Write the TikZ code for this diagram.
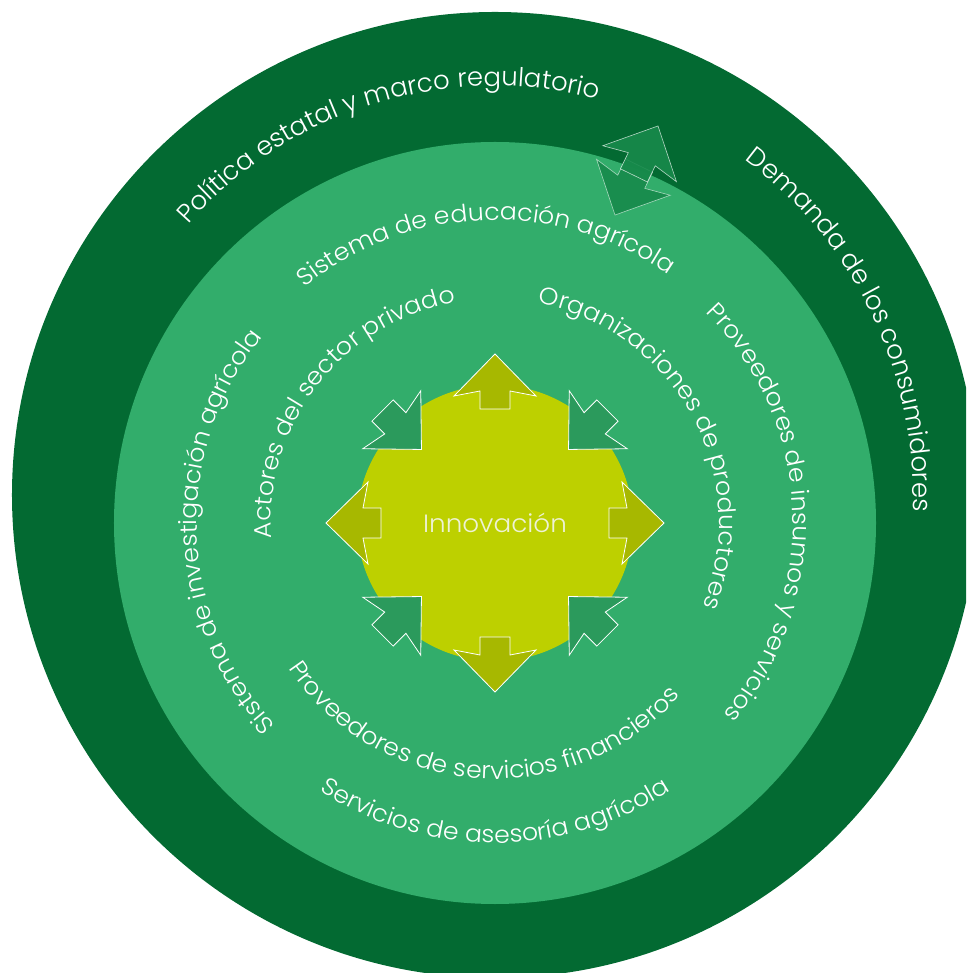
\documentclass[tikz,border=0pt]{standalone}
\usepackage{fontspec}
\setmainfont{Poppins}[UprightFont=* Light]
\newfontfamily\ringfamily{Poppins}[UprightFont=* Light, FakeStretch=1.05]
\usepackage{xcolor}
\usetikzlibrary{decorations.text, positioning}

\definecolor{outergreen}{HTML}{036A32}
\definecolor{ringgreen}{HTML}{32AD6B}
\definecolor{corelime}{HTML}{BDD000}
\definecolor{arrowlime}{HTML}{A7B800}
\definecolor{arrowgreen}{HTML}{2B9A5C}
\definecolor{linkgreen}{HTML}{178A4B}
\definecolor{corecream}{HTML}{EEF2D6}

\newcommand{\outerfont}{\fontsize{26}{30}\selectfont}
\newcommand{\ringfont}{\ringfamily\fontsize{24}{28}\selectfont}

\begin{document}
\begin{tikzpicture}[x=1pt, y=1pt]
            % Define shapes and styles
            \tikzset{blockarrow/.pic={
            \draw[pic actions] (0,-15) -- (18,-15) -- (13,-41) -- (55,0) -- (13,41) -- (18,15) -- (0,15) -- cycle;
            }}
            \tikzstyle{disc} = [circle, inner sep=0pt]
            \tikzstyle{arclabel} = [decorate, decoration={text along path, text align=center, text color=white, text={#1}}]
            \tikzstyle{outline} = [draw=white, line width=0.8pt]

            \useasboundingbox (-495,-450) rectangle (471,523);
            \clip (-495,-450) rectangle (471,523);

            % Nodes
            \node[disc, fill=outergreen, minimum size=966pt] at (0,28) (outer) {};
            \node[disc, fill=ringgreen, minimum size=762pt] at (0,0) (ring) {};
            \node[disc, fill=corelime, minimum size=276pt, text=corecream, font=\ringfamily\fontsize{25}{29}\selectfont] at (0,0) (core) {Innovación};

            % Arrows round the core
            \foreach \a in {0,90,180,270}
              \pic[outline, fill=arrowlime, rotate=\a] at (\a:114) {blockarrow};
            \foreach \a in {45,135,225,315}
              \pic[outline, fill=arrowgreen, rotate=\a+180] at (\a:159) {blockarrow};

            % Link between ring and outer band
            \pic[draw=white, draw opacity=0.6, line width=0.6pt, fill=linkgreen, fill opacity=0.9, rotate=244] at (144.1,357.4) {blockarrow};
            \pic[draw=white, draw opacity=0.7, line width=0.6pt, fill=linkgreen, fill opacity=0.9, rotate=64] at (138.9,347.6) {blockarrow};

            % Outer band labels
            \path[arclabel={|\outerfont|Política estatal y marco regulatorio}, shift={(0,28)}] (162:409) arc[start angle=162, end angle=52, radius=409];
            \path[arclabel={|\outerfont|Demanda de los consumidores}, shift={(0,28)}] (75:418) arc[start angle=75, end angle=-24, radius=418];

            % Ring labels
            \path[arclabel={|\ringfont|Sistema de educación agrícola}] (142:303) arc[start angle=142, end angle=42, radius=303];
            \path[arclabel={|\ringfont|Sistema de investigación agrícola}] (235:298) arc[start angle=235, end angle=129, radius=298];
            \path[arclabel={|\ringfont|Proveedores de insumos y servicios}] (55:298) arc[start angle=55, end angle=-50, radius=298];
            \path[arclabel={|\ringfont|Servicios de asesoría agrícola}] (220:320) arc[start angle=220, end angle=320, radius=320];
            \path[arclabel={|\ringfont|Proveedores de servicios financieros}, shift={(0,-8)}] (197:248) arc[start angle=197, end angle=335, radius=248];
            \path[arclabel={|\ringfont|Actores del sector privado}] (200:224) arc[start angle=200, end angle=84, radius=224];
            \path[arclabel={|\ringfont|Organizaciones de productores}] (90:224) arc[start angle=90, end angle=-33, radius=224];
        \end{tikzpicture}
\end{document}
